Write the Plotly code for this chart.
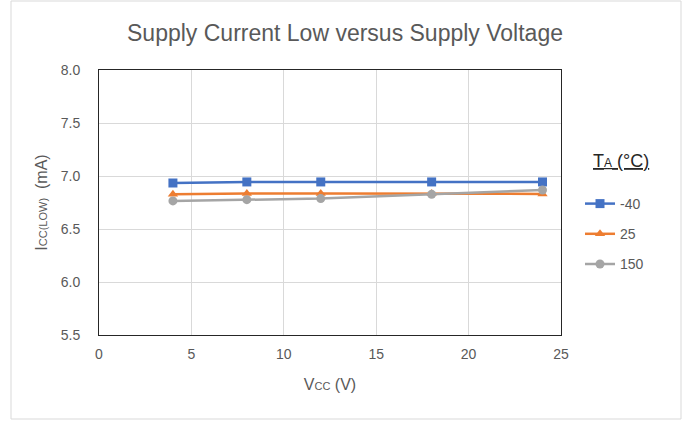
import plotly.graph_objects as go

vcc = [4, 8, 12, 18, 24]
icc_m40 = [6.934, 6.944, 6.944, 6.944, 6.944]
icc_25 = [6.827, 6.836, 6.836, 6.836, 6.831]
icc_150 = [6.765, 6.777, 6.787, 6.827, 6.868]
series_names = ["-40", "25", "150"]
colors = ["#4472C4", "#ED7D31", "#A5A5A5"]
symbols = ["square", "triangle-up", "circle"]

W, H = 690, 421
L, R, T, B = 99, 561, 70, 335  # plot area pixel bounds

def px_x(p):
    return (p - L) / (R - L)

def px_y(p):
    return (B - p) / (B - T)

FONT = "Liberation Sans"
GRAY = "#595959"

fig = go.Figure()
for name, ys, c, s in zip(series_names, [icc_m40, icc_25, icc_150], colors, symbols):
    fig.add_trace(go.Scatter(
        x=vcc, y=ys, name=name, mode="lines+markers",
        line=dict(color=c, width=2.5),
        marker=dict(symbol=s, size=9, color=c),
        legendgroup=name,
    ))

fig.update_layout(
    width=W, height=H,
    margin=dict(l=L, r=W - R, t=T, b=H - B, pad=0),
    paper_bgcolor="white", plot_bgcolor="white",
    font=dict(family=FONT, color=GRAY, size=14),
    title=dict(text="Supply Current Low versus Supply Voltage",
               x=0.5, xanchor="center", y=1 - 33 / H, yanchor="middle",
               font=dict(size=23, color=GRAY, family=FONT)),
    xaxis=dict(range=[0, 25], dtick=5, showgrid=True, gridcolor="#D9D9D9",
               gridwidth=1, zeroline=False, showline=True, linecolor="#262626",
               linewidth=1, mirror=True, ticks="", tickfont=dict(size=14, color=GRAY),
               ticklabelstandoff=6,
               title=dict(text="V<span style='font-size:11px'>CC</span> (V)",
                          font=dict(size=16, color=GRAY), standoff=18)),
    yaxis=dict(range=[5.5, 8.0], dtick=0.5, tickformat=".1f", showgrid=True,
               gridcolor="#D9D9D9", gridwidth=1, zeroline=False, showline=True,
               linecolor="#262626", linewidth=1, mirror=True, ticks="",
               tickfont=dict(size=14, color=GRAY), ticklabelstandoff=15,
               title=dict(text="I<span style='font-size:11px'>CC(LOW)</span>  (mA)",
                          font=dict(size=16, color=GRAY), standoff=9)),
    legend=dict(x=px_x(580), y=px_y(188), xanchor="left", yanchor="top",
                font=dict(size=14, color=GRAY), tracegroupgap=9,
                bgcolor="rgba(0,0,0,0)"),
    showlegend=True,
)

fig.add_annotation(
    text="<u>T<span style='font-size:12px'>A</span> (°C)</u>",
    xref="paper", yref="paper", x=px_x(621), y=px_y(161),
    xanchor="center", yanchor="middle", showarrow=False,
    font=dict(size=18, color="#262626", family=FONT),
)

fig.add_shape(type="rect", xref="paper", yref="paper",
              x0=px_x(11), x1=px_x(681), y0=px_y(419), y1=px_y(1),
              line=dict(color="#D9D9D9", width=1), layer="below")

fig.write_html("out.html", config={"displayModeBar": False},
               post_script="document.body.style.margin='0';")
